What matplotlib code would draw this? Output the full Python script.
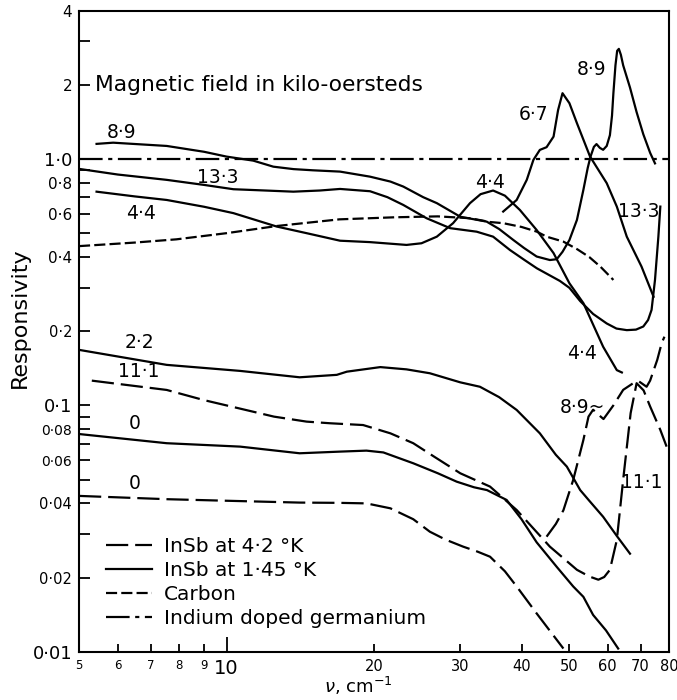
import matplotlib
matplotlib.use('Agg')
import matplotlib.pyplot as plt
from matplotlib.lines import Line2D

plt.rcParams['font.family'] = ['DejaVu Sans']
plt.rcParams['lines.scale_dashes'] = False

# ---------------- data (wavenumber cm^-1, responsivity) ----------------
ge_x = [5, 80]
ge_y = [1.0, 1.0]

carbon_x = [5, 6.5, 7.9, 10, 12.7, 17, 19.6, 22, 27, 31.4, 34.5, 36.7, 40, 43, 45, 48.7, 52, 55, 58, 61.6]
carbon_y = [0.443, 0.458, 0.472, 0.50, 0.535, 0.569, 0.575, 0.58, 0.585, 0.575, 0.555, 0.549, 0.53, 0.507, 0.484, 0.462, 0.43, 0.40, 0.365, 0.323]

s89_x = [5.43, 5.87, 7.55, 9, 10.0, 11.34, 12.46, 13.7, 15, 17.05, 19.63, 21.6, 22.95, 25.2, 26.87, 30.0, 33.96, 36, 38.5, 40.5, 42.95,
         45.7, 47.2, 48.5, 50.1, 51.9, 53.5, 54.6, 55.3, 56.2, 56.9, 57.8, 58.7, 59.7, 60.6, 61.2, 61.6, 62.2, 62.7, 63.2, 63.8, 64.5,
         66.6, 68.7, 70.9, 73.2, 74.9]
s89_y = [1.152, 1.165, 1.13, 1.07, 1.023, 0.985, 0.931, 0.91, 0.90, 0.889, 0.848, 0.81, 0.773, 0.70, 0.662, 0.583, 0.557, 0.52, 0.469, 0.435, 0.402,
         0.389, 0.392, 0.42, 0.469, 0.566, 0.75, 0.92, 1.02, 1.12, 1.15, 1.11, 1.09, 1.13, 1.25, 1.5, 1.85, 2.4, 2.75, 2.8, 2.65, 2.4,
         1.95, 1.55, 1.26, 1.06, 0.96]

s133_x = [5, 6, 7.55, 9, 10.33, 12, 13.69, 15.5, 17.05, 19.63, 21.3, 22.95, 25.6, 28.6, 32.4, 35.0, 37.9, 40.5, 43, 47.9, 50.1, 52.7,
          56, 59.7, 62.5, 65.6, 68.5, 70.9, 72.5, 73.7, 74.9, 76.1, 76.8]
s133_y = [0.912, 0.865, 0.823, 0.785, 0.754, 0.745, 0.737, 0.745, 0.756, 0.74, 0.70, 0.651, 0.575, 0.524, 0.507, 0.484, 0.427, 0.39, 0.36, 0.32, 0.30, 0.265,
          0.235, 0.215, 0.205, 0.202, 0.203, 0.209, 0.222, 0.244, 0.323, 0.484, 0.641]

s44_x = [5.43, 6.5, 7.55, 9, 10.33, 12.66, 14.57, 17.05, 19.6, 23.3, 25.0, 26.87, 29.0, 31.4, 33.0, 35.0, 37.0, 39.7, 42.95, 46.5,
         50.1, 53.5, 58.7, 62.6, 64.1]
s44_y = [0.737, 0.705, 0.682, 0.64, 0.603, 0.532, 0.50, 0.466, 0.46, 0.448, 0.455, 0.484, 0.549, 0.662, 0.72, 0.745, 0.71, 0.621, 0.515, 0.415,
         0.313, 0.26, 0.173, 0.139, 0.136]

s67_x = [36.7, 39.1, 41.0, 42.3, 43.6, 45.0, 46.5, 47.5, 48.5, 50.1, 51.9, 55.2, 59.7, 62.6, 65.6, 70.3, 74.4]
s67_y = [0.612, 0.682, 0.823, 0.992, 1.089, 1.117, 1.233, 1.58, 1.85, 1.685, 1.398, 1.023, 0.798, 0.641, 0.484, 0.366, 0.276]

s22_x = [5, 7.55, 10.66, 14.1, 16.79, 17.6, 20.6, 23.3, 26.0, 30.0, 32.9, 36, 39.1, 43.6, 47, 49.5, 52.7, 55, 58.7, 62.6, 66.6]
s22_y = [0.168, 0.146, 0.138, 0.130, 0.133, 0.137, 0.143, 0.140, 0.135, 0.124, 0.119, 0.108, 0.0958, 0.077, 0.063, 0.0564, 0.0453, 0.041, 0.0353, 0.0295, 0.025]

s0_x = [5, 7.55, 10.66, 14.1, 17.05, 19.3, 20.9, 24.05, 27, 29.5, 32, 34, 37.3, 40, 42.95, 47.2, 51, 53.5, 56, 59.5, 63.0]
s0_y = [0.0765, 0.0702, 0.068, 0.0639, 0.0649, 0.0655, 0.0644, 0.0582, 0.053, 0.049, 0.0465, 0.0453, 0.0413, 0.0345, 0.0278, 0.0221, 0.0184, 0.0167, 0.0141, 0.0122, 0.0103]

d111_x = [5.31, 7.55, 9, 10.66, 12.5, 14.57, 16.26, 19.0, 21.6, 24.05, 26.5, 30.0, 34.5, 39.1, 45.7, 51.9, 55, 57.4, 59, 60.6,
          62.6, 64.5, 66.8, 68.7, 71, 73.2, 76.8, 79.1]
d111_y = [0.126, 0.1155, 0.105, 0.097, 0.09, 0.0859, 0.0846, 0.0832, 0.077, 0.0702, 0.062, 0.053, 0.0468, 0.0376, 0.0267, 0.0215, 0.0202, 0.0196, 0.0201, 0.0215,
          0.0284, 0.05, 0.093, 0.123, 0.115, 0.099, 0.0795, 0.068]

d89_x = [45, 47, 48.7, 51.0, 53.5, 54.8, 56.0, 57.3, 58.8, 60.0, 61.6, 64.5, 67.6, 69.5, 72.0, 73.2, 75.7, 77.3, 78.3]
d89_y = [0.0293, 0.033, 0.0375, 0.0498, 0.0724, 0.09, 0.096, 0.092, 0.088, 0.093, 0.100, 0.1156, 0.123, 0.125, 0.119, 0.126, 0.153, 0.179, 0.19]

d0_x = [5, 7.55, 10, 14.1, 17, 19.3, 21.6, 24.05, 26.0, 28, 30.4, 32.5, 34.5, 37, 39.1, 42.95, 45.5, 48.7]
d0_y = [0.0429, 0.0416, 0.041, 0.0403, 0.0402, 0.040, 0.0382, 0.0345, 0.0307, 0.0285, 0.0267, 0.0255, 0.0243, 0.0212, 0.0184, 0.0143, 0.0123, 0.0103]

ytick_major = [0.01, 0.02, 0.04, 0.06, 0.08, 0.1, 0.2, 0.4, 0.6, 0.8, 1.0, 2, 4]
ytick_labels = ['0·01', '0·02', '0·04', '0·06', '0·08', '0·1', '0·2', '0·4', '0·6', '0·8', '1·0', '2', '4']
ytick_sizes = [13, 10.5, 10.5, 10, 10, 13, 10.5, 11, 11, 11, 13, 11, 11]
ytick_minor = [0.03, 0.05, 0.07, 0.09, 0.3, 0.5, 0.7, 0.9, 3]
xtick_major = [5, 6, 7, 8, 9, 10, 20, 30, 40, 50, 60, 70, 80]
xtick_labels = ['5', '6', '7', '8', '9', '10', '20', '30', '40', '50', '60', '70', '80']
xtick_sizes = [8.5, 8.5, 8.5, 8.5, 8.5, 14, 10.5, 10.5, 10.5, 10.5, 10.5, 10.5, 10.5]

# curve labels: (text, x, y)
curve_labels = [('8·9', 6.11, 1.28), ('13·3', 9.6, 0.84), ('4·4', 6.7, 0.60), ('2·2', 6.63, 0.18),
                ('11·1', 6.63, 0.137), ('0', 6.5, 0.0846), ('0', 6.5, 0.048), ('4·4', 34.5, 0.80),
                ('6·7', 42.4, 1.52), ('8·9', 55.7, 2.30), ('13·3', 69.5, 0.615), ('4·4', 53.2, 0.162),
                ('8·9~', 53.3, 0.098), ('11·1', 70.5, 0.0484)]

# ---------------- figure ----------------
fig = plt.figure(figsize=(6.77, 7.0), dpi=100)
ax = fig.add_axes([0.1167, 0.069, 0.8715, 0.9157])
ax.set_xscale('log')
ax.set_yscale('log')
ax.set_xlim(5, 80)
ax.set_ylim(0.01, 4)

LW = 1.6
LS_42 = (0, (16, 5))
LS_145 = '-'
LS_C = (0, (8, 3))
LS_GE = (0, (17, 4, 3, 4))
K = 'black'

ax.plot(ge_x, ge_y, color=K, lw=LW, ls=LS_GE)
ax.plot(carbon_x, carbon_y, color=K, lw=LW, ls=LS_C)
for xs, ys in [(s89_x, s89_y), (s133_x, s133_y), (s44_x, s44_y), (s67_x, s67_y), (s22_x, s22_y), (s0_x, s0_y)]:
    ax.plot(xs, ys, color=K, lw=LW, ls=LS_145, solid_joinstyle='round')
for xs, ys in [(d111_x, d111_y), (d89_x, d89_y), (d0_x, d0_y)]:
    ax.plot(xs, ys, color=K, lw=LW, ls=LS_42)

for t, x, y in curve_labels:
    ax.text(x, y, t, ha='center', va='center', fontsize=13.5)

ax.text(5.4, 2.0, 'Magnetic field in kilo-oersteds', ha='left', va='center', fontsize=15.7)

# ticks
ax.set_yticks(ytick_major)
ax.set_yticklabels(ytick_labels)
ax.set_yticks(ytick_minor, minor=True)
ax.set_yticklabels([], minor=True)
for lab, s in zip(ax.get_yticklabels(), ytick_sizes):
    lab.set_fontsize(s)
ax.set_xticks(xtick_major)
ax.set_xticklabels(xtick_labels)
ax.set_xticks([], minor=True)
for lab, s in zip(ax.get_xticklabels(), xtick_sizes):
    lab.set_fontsize(s)
ax.tick_params(axis='y', which='both', direction='in', length=8, width=1.3, pad=5, left=True, right=False)
ax.tick_params(axis='x', which='both', direction='in', length=6, width=1.3, pad=5, bottom=True, top=False)
for tk, v in zip(ax.xaxis.get_major_ticks(), xtick_major):
    if v == 10:
        tk.tick1line.set_markersize(11)
    if v == 5:
        tk.tick1line.set_visible(False)

for sp in ax.spines.values():
    sp.set_linewidth(1.5)

# legend
handles = [Line2D([], [], color=K, lw=LW, ls=LS_42, label='InSb at 4·2 °K'),
           Line2D([], [], color=K, lw=LW, ls=LS_145, label='InSb at 1·45 °K'),
           Line2D([], [], color=K, lw=LW, ls=LS_C, label='Carbon'),
           Line2D([], [], color=K, lw=LW, ls=LS_GE, label='Indium doped germanium')]
ax.legend(handles=handles, loc='upper left', bbox_to_anchor=(0.045, 0.179), frameon=False,
          fontsize=14.5, handlelength=2.3, handletextpad=0.6, labelspacing=0.25,
          borderaxespad=0, borderpad=0)

fig.text(20 / 677, 1 - 318 / 700, 'Responsivity', rotation=90, ha='center', va='center', fontsize=16)
fig.text(358 / 677, 1 - 686 / 700, r'$\nu$, cm$^{-1}$', ha='center', va='center', fontsize=13)

fig.savefig('out.png', dpi=100)
